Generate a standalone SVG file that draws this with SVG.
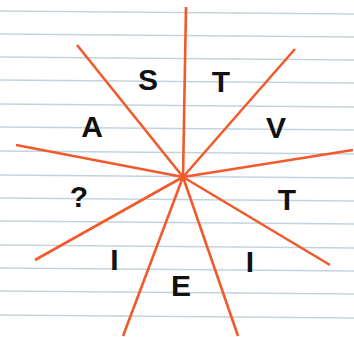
<svg xmlns="http://www.w3.org/2000/svg" width="354" height="337" viewBox="0 0 354 337">
<style>
.rule{stroke:#c3d3de;stroke-width:1.5;fill:none}
.ray{stroke:#f15a2b;stroke-width:2.6;stroke-linecap:butt;fill:none}
.lt{font-family:"Liberation Sans",Arial,sans-serif;font-weight:bold;font-size:30px;fill:#111;text-anchor:middle}
</style>
<rect width="354" height="337" fill="#fff"/>
<g id="paper">
<line class="rule" x1="0" y1="11" x2="354" y2="14"/>
<line class="rule" x1="0" y1="34" x2="354" y2="37"/>
<line class="rule" x1="0" y1="57" x2="354" y2="60"/>
<line class="rule" x1="0" y1="80" x2="354" y2="83"/>
<line class="rule" x1="0" y1="104" x2="354" y2="107"/>
<line class="rule" x1="0" y1="127" x2="354" y2="130"/>
<line class="rule" x1="0" y1="151" x2="354" y2="154"/>
<line class="rule" x1="0" y1="175" x2="354" y2="178"/>
<line class="rule" x1="0" y1="198" x2="354" y2="201"/>
<line class="rule" x1="0" y1="221" x2="354" y2="224"/>
<line class="rule" x1="0" y1="245" x2="354" y2="248"/>
<line class="rule" x1="0" y1="268" x2="354" y2="271"/>
<line class="rule" x1="0" y1="291" x2="354" y2="294"/>
<line class="rule" x1="0" y1="315" x2="354" y2="318"/>
</g>
<g id="connectors">
<line class="ray" x1="183" y1="177" x2="186" y2="7"/>
<line class="ray" x1="183" y1="177" x2="77" y2="45"/>
<line class="ray" x1="183" y1="177" x2="295" y2="49"/>
<line class="ray" x1="183" y1="177" x2="16" y2="145"/>
<line class="ray" x1="183" y1="177" x2="353" y2="150"/>
<line class="ray" x1="183" y1="177" x2="35" y2="260"/>
<line class="ray" x1="183" y1="177" x2="330" y2="265"/>
<line class="ray" x1="183" y1="177" x2="123" y2="336"/>
<line class="ray" x1="183" y1="177" x2="238" y2="336"/>
</g>
<g id="S"><text class="lt" x="148" y="90">S</text></g>
<g id="T1"><text class="lt" x="221" y="92">T</text></g>
<g id="A"><text class="lt" x="92" y="137">A</text></g>
<g id="V"><text class="lt" x="276" y="138">V</text></g>
<g id="Q"><text class="lt" x="79" y="207">?</text></g>
<g id="T2"><text class="lt" x="287" y="210">T</text></g>
<g id="I1"><text class="lt" x="114.5" y="270">I</text></g>
<g id="I2"><text class="lt" x="250" y="272">I</text></g>
<g id="E"><text class="lt" x="181" y="296">E</text></g>
</svg>
